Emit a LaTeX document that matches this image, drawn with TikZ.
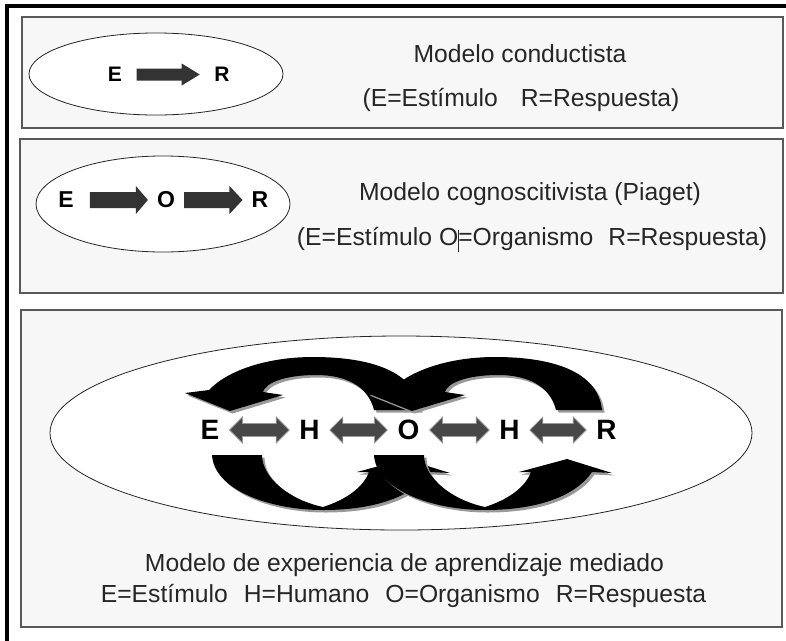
\documentclass[tikz,border=0pt]{standalone}
\usepackage{fontspec}
\setmainfont{Liberation Sans}
\usetikzlibrary{calc}
\begin{document}
\tikzset{
  frame/.style={draw=black, line width=4pt},
  panel/.style={draw=black!65, line width=1.4pt, fill=black!3},
  oval/.style={draw=black!85, line width=0.8pt, fill=white},
  caption/.style={font=\fontsize{24.7}{28}\selectfont, text=black!85, inner sep=0pt, anchor=base},
  ltA/.style={font=\fontsize{21}{21}\selectfont\bfseries, inner ysep=0pt, inner xsep=14.5pt},
  ltB/.style={font=\fontsize{23}{23}\selectfont\bfseries, inner ysep=0pt, inner xsep=9pt},
  ltC/.style={font=\fontsize{28}{28}\selectfont\bfseries, inner ysep=0pt, inner xsep=10pt},
  panelarrow/.style={fill=black!80},
  dblarrow/.style={fill=black!72, draw=black!40, line width=0.8pt, line join=miter},
  arcblack/.style={fill=black},
  arcshadow/.style={fill=black!40},
}
% single block arrow between two node anchors: #3 shaft half, #4 head half, #5 head length
\newcommand\sarrow[5]{%
  \path[panelarrow] let \p1=#1, \p2=#2 in
  (\x1,\y1+#3pt) -- (\x2-#5pt,\y1+#3pt) -- (\x2-#5pt,\y1+#4pt) -- (\x2,\y1)
  -- (\x2-#5pt,\y1-#4pt) -- (\x2-#5pt,\y1-#3pt) -- (\x1,\y1-#3pt) -- cycle;}
% double block arrow
\newcommand\darrow[5]{%
  \path[dblarrow] let \p1=#1, \p2=#2 in
  (\x1,\y1) -- (\x1+#5pt,\y1+#4pt) -- (\x1+#5pt,\y1+#3pt) -- (\x2-#5pt,\y1+#3pt)
  -- (\x2-#5pt,\y1+#4pt) -- (\x2,\y1) -- (\x2-#5pt,\y1-#4pt) -- (\x2-#5pt,\y1-#3pt)
  -- (\x1+#5pt,\y1-#3pt) -- (\x1+#5pt,\y1-#4pt) -- cycle;}
% upper circular arrow (tail at right, head at left pointing down)
\newcommand\toparc{(420,410) .. controls (416,372) and (372,357) .. (313,357)
  .. controls (268,357) and (228,370) .. (209,390) -- (185,393) -- (230,411)
  -- (283,395) -- (263,392) .. controls (265,383) and (285,375) .. (316,375)
  .. controls (346,375) and (368,386) .. (374,410) -- cycle}
% lower circular arrow (tail at upper left, head at right pointing up)
\newcommand\botarc{(212,455) -- (262,455) .. controls (262,478) and (290,500) .. (323,507)
  .. controls (345,500) and (363,488) .. (369,472) -- (357,472) -- (405,459)
  -- (450,473) -- (430,472) .. controls (412,498) and (372,510) .. (323,510)
  .. controls (270,510) and (214,490) .. (212,455) -- cycle}
\newcommand\arcpair[2]{%
  \begin{scope}[shift={(2.5,2.5)},#1]\fill[arcshadow] #2;\end{scope}
  \begin{scope}[#1]\fill[arcblack] #2;\end{scope}}
\begin{tikzpicture}[x=1pt,y=-1pt]
\useasboundingbox (0,0) rectangle (786,640);
\fill[white] (0,0) rectangle (786,640);
% outer frame (continues beyond the picture on the right and bottom)
\draw[frame] (7,700) -- (7,6) -- (850,6);

% ---------- panel 1 ----------
\draw[panel] (22,17) rectangle (783,128);
\draw[oval] (156,74) ellipse [x radius=127, y radius=41];
\node[ltA] (e1) at (115,74.5) {E};
\node[ltA] (r1) at (222,74.5) {R};
\sarrow{(e1.east)}{(r1.west)}{6}{11}{18}
\node[caption] (t1a) at (520,62) {Modelo conductista};
\node[caption] (t1b) at (521,106) {(E=Estímulo\hspace{23pt}R=Respuesta)};

% ---------- panel 2 ----------
\draw[panel] (20,139) rectangle (783,293);
\draw[oval] (163,204) ellipse [x radius=127, y radius=48];
\node[ltB, inner xsep=16pt] (e2) at (66,200) {E};
\node[ltB] (o2) at (166,200) {O};
\node[ltB] (r2) at (260,200) {R};
\sarrow{(e2.east)}{(o2.west)}{8}{14}{12}
\sarrow{(o2.east)}{(r2.west)}{8}{14}{13}
\node[caption] (t2a) at (530,200) {Modelo cognoscitivista (Piaget)};
\node[caption] (t2b) at (532,245) {(E=Estímulo O\rlap{\kern-0.5pt\rule[-7pt]{0.8pt}{22pt}}=Organismo\hspace{15pt}R=Respuesta)};

% ---------- panel 3 ----------
\draw[panel] (21,310) rectangle (782,627);
\draw[oval] (401,433) ellipse [x radius=351, y radius=97];
% big circular arrows
\arcpair{}{\toparc}
\arcpair{}{\botarc}
\arcpair{shift={(182,0)}}{\toparc}
\arcpair{shift={(162,0)}}{\botarc}
% letters and double arrows
\node[ltC] (e3) at (210,430) {E};
\node[ltC] (h3a) at (309.5,430) {H};
\node[ltC] (o3) at (408.5,430) {O};
\node[ltC] (h3b) at (509.5,430) {H};
\node[ltC] (r3) at (606.5,430) {R};
\darrow{(e3.east)}{(h3a.west)}{6.5}{13}{13}
\darrow{(h3a.east)}{(o3.west)}{6.5}{13}{13}
\darrow{(o3.east)}{(h3b.west)}{6.5}{13}{13}
\darrow{(h3b.east)}{(r3.west)}{6.5}{13}{13}
\node[caption] (t3a) at (404.5,571) {Modelo de experiencia de aprendizaje mediado};
\node[caption] (t3b) at (403.5,602) {E=Estímulo\hspace{16pt}H=Humano\hspace{16pt}O=Organismo\hspace{16pt}R=Respuesta};
\end{tikzpicture}
\end{document}
